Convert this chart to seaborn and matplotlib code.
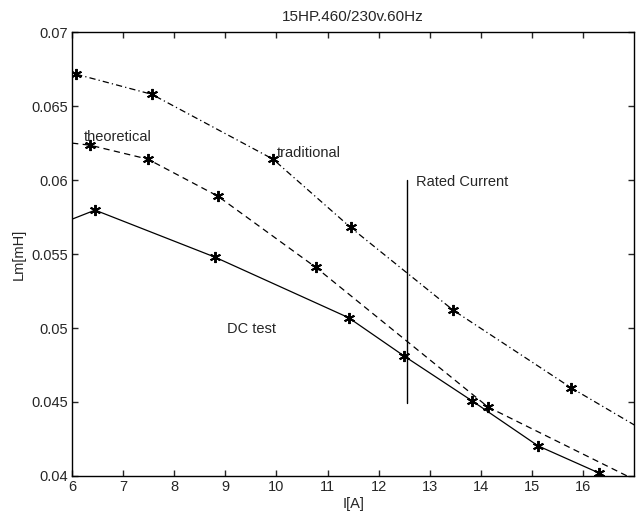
import matplotlib
matplotlib.use("Agg")
import matplotlib.pyplot as plt
import numpy as np
import pandas as pd
import seaborn as sns

# data
trad_I = [6.08, 7.56, 9.93, 11.45, 13.46, 15.77, 17.0]
trad_L = [0.06716, 0.0658, 0.06142, 0.0568, 0.0512, 0.04595, 0.04345]
trad_mark = [True, True, True, True, True, True, False]

theo_I = [6.0, 6.35, 7.48, 8.85, 10.77, 14.14, 16.86]
theo_L = [0.0625, 0.06236, 0.06142, 0.05892, 0.0541, 0.04466, 0.0400]
theo_mark = [False, True, True, True, True, True, False]

dc_I = [6.0, 6.45, 8.79, 11.41, 12.5, 13.83, 15.12, 16.31]
dc_L = [0.05736, 0.05797, 0.0548, 0.0507, 0.0481, 0.04507, 0.04203, 0.0402]
dc_mark = [False, True, True, True, True, True, True, True]

rated_I = 12.56
rated_L = [0.0449, 0.0600]

sns.set_style("ticks")
plt.rcParams['font.family'] = ['Liberation Sans', 'DejaVu Sans']
plt.rcParams['font.size'] = 10.5

fig = plt.figure(figsize=(6.38, 5.19), dpi=100)
ax = fig.add_axes([0.113, 0.083, 0.881, 0.855])

series = [
    (trad_I, trad_L, trad_mark, (0, (5, 2.5, 1, 2.5))),
    (theo_I, theo_L, theo_mark, (0, (5, 3.5))),
    (dc_I, dc_L, dc_mark, '-'),
]
for xs, ys, mk, ls in series:
    df = pd.DataFrame({'I': xs, 'L': ys})
    sns.lineplot(data=df, x='I', y='L', ax=ax, sort=False, color='black',
                 linewidth=0.9, linestyle=ls)
    m = np.array(mk)
    ax.plot(np.array(xs)[m], np.array(ys)[m], linestyle='none', marker=(6, 2, 0),
            markersize=8, markeredgewidth=1.4, color='black')

ax.plot([rated_I, rated_I], rated_L, color='black', linewidth=1.0)

ax.text(6.23, 0.0629, 'theoretical', fontsize=10.5, va='center', ha='left')
ax.text(10.0, 0.0618, 'traditional', fontsize=10.5, va='center', ha='left')
ax.text(12.74, 0.0599, 'Rated Current', fontsize=10.5, va='center', ha='left')
ax.text(9.03, 0.0499, 'DC test', fontsize=10.5, va='center', ha='left')

ax.set_xlim(6, 17)
ax.set_ylim(0.04, 0.07)
ax.set_xticks(range(6, 17))
ax.set_yticks([0.04, 0.045, 0.05, 0.055, 0.06, 0.065, 0.07])
ax.set_yticklabels(['0.04', '0.045', '0.05', '0.055', '0.06', '0.065', '0.07'])
ax.tick_params(direction='in', top=True, right=True, length=4, width=1,
               labelsize=10.5, pad=3)
for s in ax.spines.values():
    s.set_visible(True)
    s.set_linewidth(1.0)
    s.set_color('black')

ax.set_xlabel('I[A]', fontsize=10.5, labelpad=2)
ax.set_ylabel('Lm[mH]', fontsize=10.5, labelpad=4)
ax.set_title('15HP.460/230v.60Hz', fontsize=11, pad=8)

plt.savefig('out.png', dpi=100)
